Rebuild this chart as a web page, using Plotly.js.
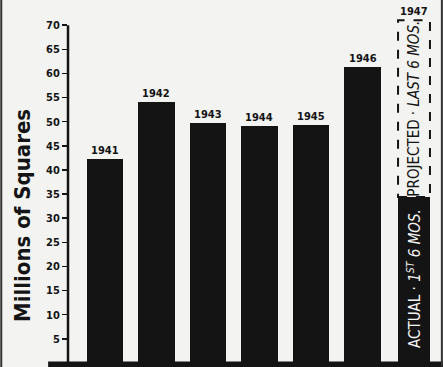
<!DOCTYPE html>
<html>
<head>
<meta charset="utf-8">
<script src="https://cdn.plot.ly/plotly-3.0.1.min.js"></script>
<style>html,body{margin:0;padding:0;background:#f3f3f1;}</style>
</head>
<body>
<div id="chart" style="width:443px;height:367px;"></div>
<script>
// Data
const years = ['1941', '1942', '1943', '1944', '1945', '1946', '1947'];
const actual = [42.2, 54.1, 49.8, 49.1, 49.3, 61.4, 34.4];
const projected = [0, 0, 0, 0, 0, 0, 36.6];
const barWidths = [0.7, 0.7, 0.7, 0.7, 0.7, 0.7, 0.62];
const yTicks = [5, 10, 15, 20, 25, 30, 35, 40, 45, 50, 55, 60, 65, 70];
const yTitle = 'Millions of Squares';
const actualNote = 'ACTUAL · <i>1<sup>ST</sup> 6 MOS.</i>';
const projectedNote = 'PROJECTED · <i>LAST 6 MOS.</i>';

const FONT = '"DejaVu Sans Condensed", "Liberation Sans Narrow", sans-serif';
const INK = '#141414';
const BG = '#f3f3f1';

const totals = actual.map((v, i) => v + projected[i]);
const last = years.length - 1;

const traces = [
  {
    type: 'bar', x: years, y: actual, width: barWidths,
    marker: { color: INK, line: { width: 0 } },
    hoverinfo: 'x+y', showlegend: false
  },
  {
    type: 'bar', x: years, y: projected, width: barWidths,
    marker: { color: 'rgba(0,0,0,0)', line: { width: 0 } },
    hoverinfo: 'x+y', showlegend: false
  }
];

const annotations = years.map((yr, i) => ({
  x: i, y: totals[i], xref: 'x', yref: 'y',
  text: '<b>' + yr + '</b>', showarrow: false,
  yanchor: 'bottom', yshift: 0,
  font: { family: FONT, size: 11, color: INK }
}));

annotations.push({
  x: last, y: actual[last] / 2, xref: 'x', yref: 'y',
  text: actualNote, showarrow: false, textangle: -90, yshift: 1,
  font: { family: FONT, size: 15, color: '#f4f4f4' }
});
annotations.push({
  x: last, y: actual[last] + projected[last] / 2, xref: 'x', yref: 'y',
  text: projectedNote, showarrow: false, textangle: -90,
  font: { family: FONT, size: 15, color: INK }
});

const L = 68, T = 1, W = 375, H = 362;
annotations.push({
  x: (22 - L) / W, xref: 'paper', y: 1 - (216 - T) / H, yref: 'paper',
  xanchor: 'center', yanchor: 'middle',
  text: '<b>' + yTitle + '</b>', showarrow: false, textangle: -90,
  font: { family: FONT, size: 22, color: INK }
});

const shapes = [];
// dashed outline of projected part
shapes.push({
  type: 'rect', xref: 'x', yref: 'y',
  x0: last - barWidths[last] / 2, x1: last + barWidths[last] / 2,
  y0: actual[last], y1: totals[last],
  line: { color: INK, width: 2, dash: 'dash' }, fillcolor: 'rgba(0,0,0,0)'
});
// vertical axis line up to 70
shapes.push({
  type: 'line', xref: 'paper', yref: 'y', x0: 0, x1: 0, y0: 0, y1: yTicks[yTicks.length - 1],
  line: { color: INK, width: 2.5 }
});
// heavy baseline
shapes.push({
  type: 'rect', xref: 'paper', yref: 'paper', x0: -0.053, x1: 1, y0: -0.012, y1: 0.004,
  line: { width: 0 }, fillcolor: INK
});
// frame edges of the scanned page
shapes.push({
  type: 'line', xref: 'paper', yref: 'paper', x0: -0.178, x1: -0.178, y0: -0.02, y1: 1.01,
  line: { color: '#333', width: 2 }
});
shapes.push({
  type: 'line', xref: 'paper', yref: 'paper', x0: 0.997, x1: 0.997, y0: -0.02, y1: 1.01,
  line: { color: '#333', width: 2 }
});

const layout = {
  width: 443, height: 367,
  margin: { l: L, r: 0, t: T, b: 4, pad: 0 },
  paper_bgcolor: BG, plot_bgcolor: BG,
  barmode: 'stack',
  showlegend: false,
  xaxis: {
    type: 'category', range: [-0.718, 6.563],
    showticklabels: false, ticks: '', showgrid: false, zeroline: false, showline: false
  },
  yaxis: {
    range: [0, 75], tickvals: yTicks, ticktext: yTicks.map(String),
    ticks: 'outside', ticklen: 5, tickwidth: 1.5, tickcolor: INK,
    showgrid: false, zeroline: false, showline: false,
    tickfont: { family: FONT, size: 11, color: INK, weight: 'bold' }
  },
  annotations: annotations,
  shapes: shapes,
  font: { family: FONT, color: INK }
};

Plotly.newPlot('chart', traces, layout, { displayModeBar: false, staticPlot: true });
</script>
</body>
</html>
